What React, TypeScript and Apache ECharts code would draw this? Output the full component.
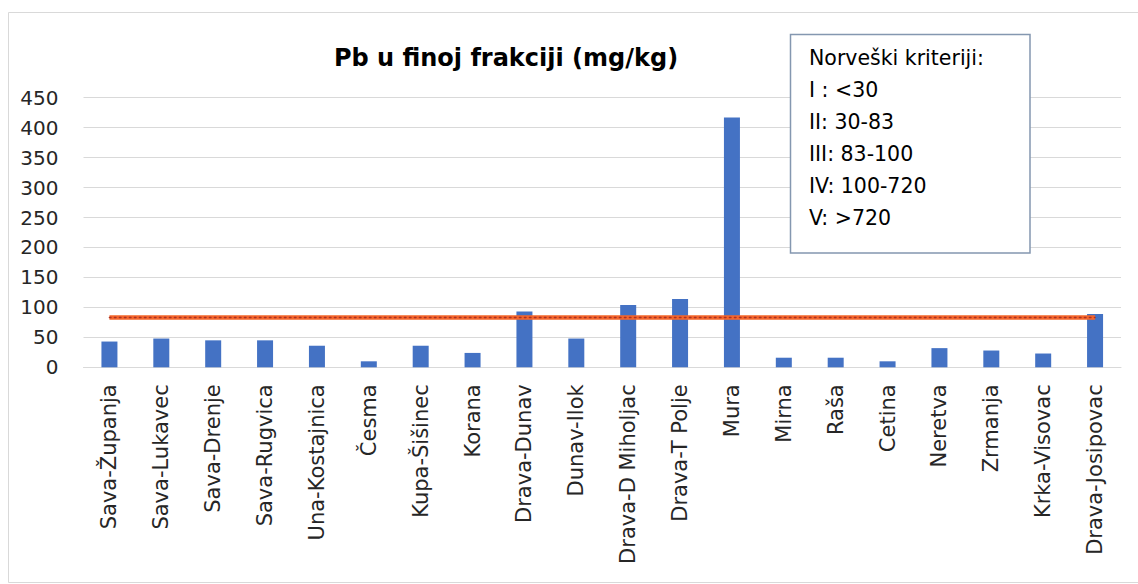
import React, { useEffect, useRef } from "react";
import * as echarts from "echarts";

const categories = [
  "Sava-Županja", "Sava-Lukavec", "Sava-Drenje", "Sava-Rugvica", "Una-Kostajnica",
  "Česma", "Kupa-Šišinec", "Korana", "Drava-Dunav", "Dunav-Ilok",
  "Drava-D Miholjac", "Drava-T Polje", "Mura", "Mirna", "Raša",
  "Cetina", "Neretva", "Zrmanja", "Krka-Visovac", "Drava-Josipovac",
];
const pbValues = [43, 48, 45, 45, 36, 10, 36, 24, 93, 48, 104, 114, 417, 16, 16, 10, 32, 28, 23, 89];
const criterionLine = [83, 83, 83, 83, 83, 83, 83, 83, 83, 83, 83, 83, 83, 83, 83, 83, 83, 83, 83, 83];
const yTicks = { min: 0, max: 450, interval: 50 };
const titleText = "Pb u finoj frakciji (mg/kg)";
const legendLines = ["Norveški kriteriji:", "I : <30", "II: 30-83", "III: 83-100", "IV: 100-720", "V: >720"];

const FONT = "DejaVu Sans";

export default function App() {
  const ref = useRef<HTMLDivElement>(null);
  useEffect(() => {
    if (!ref.current) return;
    const chart = echarts.init(ref.current, null, { renderer: "svg" });
    chart.setOption({
      animation: false,
      backgroundColor: "#ffffff",
      title: {
        text: titleText,
        left: 501,
        top: 41,
        textAlign: "center",
        textStyle: { fontFamily: FONT, fontSize: 24, fontWeight: "bold", color: "#000000" },
      },
      grid: { left: 83.5, right: 17, top: 97.7, bottom: 216.7, containLabel: false },
      xAxis: {
        type: "category",
        data: categories,
        axisTick: { show: false },
        axisLine: { lineStyle: { color: "#d9d9d9", width: 1 } },
        axisLabel: {
          rotate: 90,
          interval: 0,
          margin: 17,
          fontFamily: FONT,
          fontSize: 21,
          color: "#262626",
        },
      },
      yAxis: {
        type: "value",
        min: yTicks.min,
        max: yTicks.max,
        interval: yTicks.interval,
        axisLine: { show: false },
        axisTick: { show: false },
        splitLine: { lineStyle: { color: "#d9d9d9", width: 1 } },
        axisLabel: { fontFamily: FONT, fontSize: 20, color: "#262626", margin: 25 },
      },
      series: [
        {
          type: "bar",
          data: pbValues,
          barWidth: 16,
          itemStyle: { color: "#4472C4" },
        },
        {
          type: "line",
          data: criterionLine,
          symbol: "none",
          lineStyle: { color: "#F4652A", width: 4.5 },
          z: 3,
        },
        {
          type: "line",
          data: criterionLine,
          symbol: "none",
          lineStyle: { color: "#A93226", width: 1.5, type: [1.5, 3.5], cap: "round" },
          z: 4,
        },
      ],
      graphic: [
        {
          type: "rect",
          shape: { x: 8.5, y: 12.5, width: 1135, height: 570 },
          style: { fill: "none", stroke: "#d9d9d9", lineWidth: 1 },
          silent: true,
        },
        {
          type: "rect",
          shape: { x: 790.5, y: 34.5, width: 239.5, height: 218.5 },
          style: { fill: "#ffffff", stroke: "#8497B0", lineWidth: 1.5 },
          z: 10,
        },
        ...legendLines.map((t, i) => ({
          type: "text",
          x: 809,
          y: 58 + i * 32,
          z: 11,
          style: {
            text: t,
            fontFamily: FONT,
            fontSize: 20.5,
            fill: "#000000",
            textVerticalAlign: "middle",
            verticalAlign: "middle",
          },
        })),
      ],
    });
    return () => chart.dispose();
  }, []);
  return (
    <div
      ref={ref}
      style={{ position: "fixed", left: 0, top: 0, width: 1138, height: 584 }}
    />
  );
}
